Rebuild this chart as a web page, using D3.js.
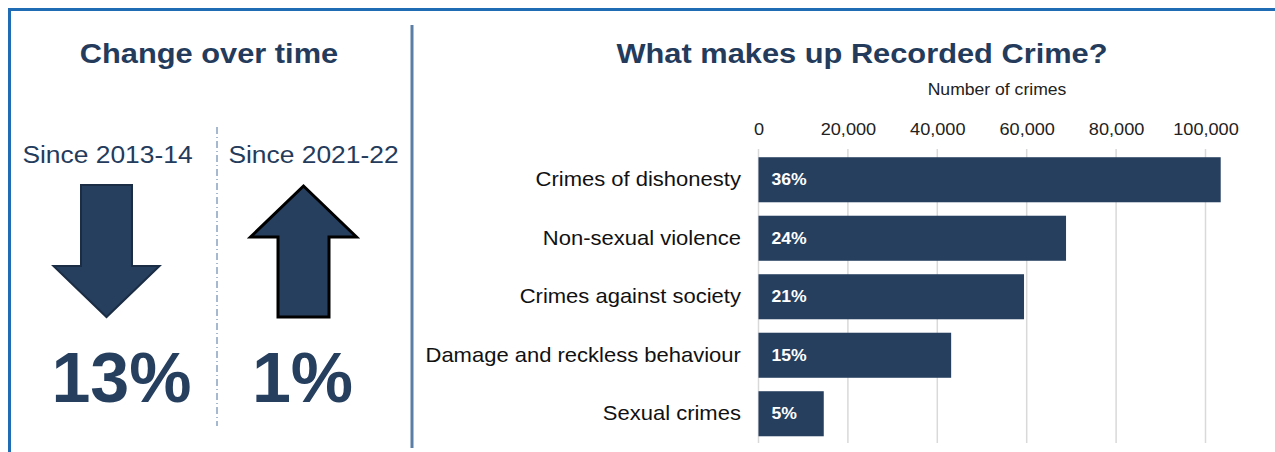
<!DOCTYPE html>
<html>
<head>
<meta charset="utf-8">
<script src="https://cdn.jsdelivr.net/npm/d3@7"></script>
<style>
  html, body { margin: 0; padding: 0; background: #fff; }
  svg { display: block; font-family: 'Liberation Sans', Arial, sans-serif; }
</style>
</head>
<body>
<div class="svg-container"></div>
<script>
const categories = ['Crimes of dishonesty', 'Non-sexual violence', 'Crimes against society', 'Damage and reckless behaviour', 'Sexual crimes']
const crimeCounts = [103400, 68800, 59400, 43100, 14600]
const shareLabels = ['36%', '24%', '21%', '15%', '5%']
const xTicks = [0, 20000, 40000, 60000, 80000, 100000]

const periods = ['Since 2013-14', 'Since 2021-22']
const changes = [-13, 1]

const width = 1275
const height = 452
const navy = '#263f5f'
const titleColor = '#243b5c'
const stretch = 1.1

const svg = d3
  .select('.svg-container')
  .append('svg')
  .attr('width', width)
  .attr('height', height)

// text placed at (x, y) and widened a little, like the source
function wideText(x, y, str, size, weight, color) {
  return svg.append('text')
    .attr('transform', `translate(${x}, ${y}) scale(${stretch}, 1)`)
    .attr('text-anchor', 'middle')
    .style('font-size', size + 'px')
    .style('font-weight', weight)
    .attr('fill', color)
    .text(str)
}

// frame
svg.append('line')
  .attr('x1', 8).attr('x2', width).attr('y1', 9.5).attr('y2', 9.5)
  .attr('stroke', '#1f6bb4').attr('stroke-width', 3)
svg.append('line')
  .attr('x1', 9.5).attr('x2', 9.5).attr('y1', 8).attr('y2', height)
  .attr('stroke', '#1f6bb4').attr('stroke-width', 3)
svg.append('line')
  .attr('x1', 412).attr('x2', 412).attr('y1', 25).attr('y2', 448)
  .attr('stroke', '#5b7ea6').attr('stroke-width', 3)

// left panel: change over time
wideText(209, 63, 'Change over time', 28, 'bold', titleColor)

const xPeriod = d3.scaleBand(periods, [5, 415])

svg.append('line')
  .attr('x1', 217).attr('x2', 217).attr('y1', 127).attr('y2', 426)
  .attr('stroke', '#4f73a0').attr('stroke-width', 1)
  .attr('stroke-dasharray', '7,3,1,3')

function arrowPath(cx, top, bottom, up) {
  const shaftHalf = 25.5
  const headHalf = 53
  const headLen = 51
  if (up) {
    const baseY = top + headLen
    return `M${cx},${top} L${cx + headHalf},${baseY} L${cx + shaftHalf},${baseY} L${cx + shaftHalf},${bottom} L${cx - shaftHalf},${bottom} L${cx - shaftHalf},${baseY} L${cx - headHalf},${baseY} Z`
  }
  const baseY = bottom - headLen
  return `M${cx - shaftHalf},${top} L${cx + shaftHalf},${top} L${cx + shaftHalf},${baseY} L${cx + headHalf},${baseY} L${cx},${bottom} L${cx - headHalf},${baseY} L${cx - shaftHalf},${baseY} Z`
}

periods.forEach((period, i) => {
  const cx = xPeriod(period) + xPeriod.bandwidth() / 2
  const up = changes[i] > 0

  wideText(up ? cx + 1 : cx, 163, period, 24, 'normal', titleColor)

  const arrowX = up ? cx - 9 : cx - 1
  svg.append('path')
    .attr('d', arrowPath(arrowX, up ? 186 : 185, 317, up))
    .attr('fill', navy)
    .attr('stroke', up ? '#000' : '#1b2d45')
    .attr('stroke-width', up ? 3 : 2)
    .attr('stroke-linejoin', 'miter')

  svg.append('text')
    .attr('x', up ? cx - 10 : cx + 14).attr('y', 402)
    .attr('text-anchor', 'middle')
    .style('font-size', '70px').style('font-weight', 'bold')
    .attr('fill', navy)
    .text(Math.abs(changes[i]) + '%')
})

// right panel: bar chart
wideText(862, 63, 'What makes up Recorded Crime?', 28, 'bold', titleColor)

const xScale = d3.scaleLinear([0, 100000], [758.5, 1205.5])
const yScale = d3.scaleBand(categories, [150.5, 443])
  .paddingInner(0.23)
  .paddingOuter(0.115)

wideText(997, 95, 'Number of crimes', 16, 'normal', '#222')

const xAxis = svg.append('g')
  .attr('transform', 'translate(0, 148)')
  .call(d3.axisTop(xScale).tickValues(xTicks).tickFormat(d3.format(',')).tickSize(0).tickPadding(13))
xAxis.select('.domain').remove()
xAxis.selectAll('text')
  .style('font-size', '16.5px')
  .style('font-family', "'Liberation Sans', Arial, sans-serif")
  .attr('fill', '#222')
  .attr('transform', `scale(${stretch}, 1)`)

svg.append('g')
  .selectAll('line')
  .data(xTicks)
  .join('line')
  .attr('x1', (d) => xScale(d)).attr('x2', (d) => xScale(d))
  .attr('y1', 149).attr('y2', 443)
  .attr('stroke', '#d9d9d9').attr('stroke-width', 1.5)

const yAxis = svg.append('g')
  .attr('transform', 'translate(758.5, 0)')
  .call(d3.axisLeft(yScale).tickSize(0).tickPadding(16))
yAxis.select('.domain').remove()
yAxis.selectAll('text')
  .style('font-size', '20px')
  .style('font-family', "'Liberation Sans', Arial, sans-serif")
  .attr('fill', '#111')
  .attr('transform', `scale(${stretch}, 1)`)

svg.selectAll('.bar')
  .data(categories)
  .join('rect')
  .classed('bar', true)
  .attr('x', xScale(0))
  .attr('y', (d) => yScale(d))
  .attr('width', (d, i) => xScale(crimeCounts[i]) - xScale(0))
  .attr('height', yScale.bandwidth())
  .attr('fill', navy)

svg.selectAll('.bar-label')
  .data(categories)
  .join('text')
  .classed('bar-label', true)
  .attr('transform', (d) => `translate(${xScale(0) + 13}, ${yScale(d) + yScale.bandwidth() / 2}) scale(${stretch}, 1)`)
  .attr('dy', '0.35em')
  .style('font-size', '16px').style('font-weight', 'bold')
  .attr('fill', '#fff')
  .text((d, i) => shareLabels[i])
</script>
</body>
</html>
